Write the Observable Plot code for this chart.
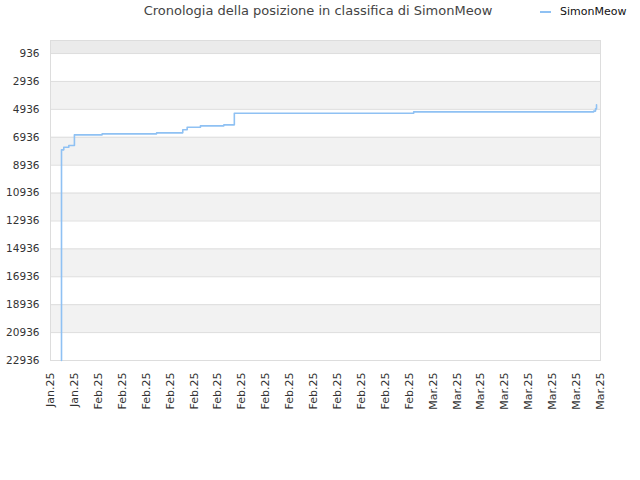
<!DOCTYPE html>
<html>
<head>
<meta charset="utf-8">
<script src="https://cdn.jsdelivr.net/npm/d3@7"></script>
<script src="https://cdn.jsdelivr.net/npm/@observablehq/plot@0.6"></script>
<style>
  body { margin: 0; background: #fff; font-family: "DejaVu Sans", sans-serif; }
  #wrap { position: relative; width: 640px; height: 480px; }
  #title { position: absolute; left: 0; top: 3px; width: 636px; text-align: center; font-size: 13px; color: #444; }
  #legend { position: absolute; left: 540px; top: 5px; font-size: 11px; color: #111; display: flex; align-items: center; }
  #legend span.sw { display: inline-block; width: 11px; height: 2px; background: #8fc1f3; margin-right: 9px; }
</style>
</head>
<body>
<div id="wrap">
  <div id="title">Cronologia della posizione in classifica di SimonMeow</div>
  <div id="legend"><span class="sw"></span><span>SimonMeow</span></div>
  <div id="chart"></div>
</div>
<script>
// Data
const seriesName = "SimonMeow";
const times = [
  "2025-01-29T22:00Z", "2025-01-29T22:05Z", "2025-01-30T02:40Z", "2025-01-30T12:45Z",
  "2025-01-31T00:00Z", "2025-02-02T07:40Z", "2025-02-06T21:00Z", "2025-02-09T01:30Z",
  "2025-02-09T10:20Z", "2025-02-10T13:00Z", "2025-02-12T12:00Z", "2025-02-13T09:00Z",
  "2025-02-28T09:00Z", "2025-03-15T10:30Z", "2025-03-15T14:00Z", "2025-03-15T16:00Z"
];
const ranks = [
  22936, 7837, 7650, 7529,
  6762, 6690, 6619, 6400,
  6217, 6117, 6045, 5214,
  5114, 5060, 4900, 4612
];
const yTicks = [936, 2936, 4936, 6936, 8936, 10936, 12936, 14936, 16936, 18936, 20936, 22936];
const xTicks = [
  "2025-01-29", "2025-01-31", "2025-02-02", "2025-02-04", "2025-02-06", "2025-02-08",
  "2025-02-10", "2025-02-12", "2025-02-14", "2025-02-16", "2025-02-18", "2025-02-20",
  "2025-02-22", "2025-02-24", "2025-02-26", "2025-02-28", "2025-03-02", "2025-03-04",
  "2025-03-06", "2025-03-08", "2025-03-10", "2025-03-12", "2025-03-14", "2025-03-16"
];
const monthNames = ["Jan", "Feb", "Mar", "Apr", "May", "Jun", "Jul", "Aug", "Sep", "Oct", "Nov", "Dec"];
const bandStarts = [1, 2936, 6936, 10936, 14936, 18936];
const bandEnds = [936, 4936, 8936, 12936, 16936, 20936];
const bandFills = ["#ebebeb", "#f2f2f2", "#f2f2f2", "#f2f2f2", "#f2f2f2", "#f2f2f2"];

const data = times.map((t, i) => ({date: new Date(t), rank: ranks[i]}));
const bands = bandStarts.map((s, i) => ({y1: s, y2: bandEnds[i], fill: bandFills[i]}));
const xTickDates = xTicks.map(d => new Date(d + "T00:00Z"));
const fmtX = d => monthNames[d.getUTCMonth()] + "." + String(d.getUTCFullYear()).slice(2);

const chart = Plot.plot({
  width: 640,
  height: 480,
  marginTop: 40,
  marginLeft: 50,
  marginRight: 40,
  marginBottom: 120,
  style: {fontFamily: "DejaVu Sans, sans-serif", color: "#333", background: "#fff"},
  x: {
    type: "utc",
    domain: [new Date("2025-01-29T00:00Z"), new Date("2025-03-16T00:00Z")],
    label: null
  },
  y: {
    domain: [1, 22936],
    reverse: true,
    label: null
  },
  marks: [
    Plot.rect(bands, {y1: "y1", y2: "y2", fill: "fill"}),
    Plot.ruleY(yTicks, {stroke: "#dddddd", strokeWidth: 1}),
    Plot.frame({stroke: "#dddddd"}),
    Plot.line(data, {x: "date", y: "rank", curve: "step-after", stroke: "#8fc1f3", strokeWidth: 1.6}),
    Plot.axisX({ticks: xTickDates, tickFormat: fmtX, tickRotate: -90, tickSize: 0, tickPadding: 12, fontSize: 11, label: null}),
    Plot.axisY({ticks: yTicks, tickFormat: d => String(d), tickSize: 0, tickPadding: 11, fontSize: 10.5, label: null})
  ]
});
document.getElementById("chart").appendChild(chart);
</script>
</body>
</html>
